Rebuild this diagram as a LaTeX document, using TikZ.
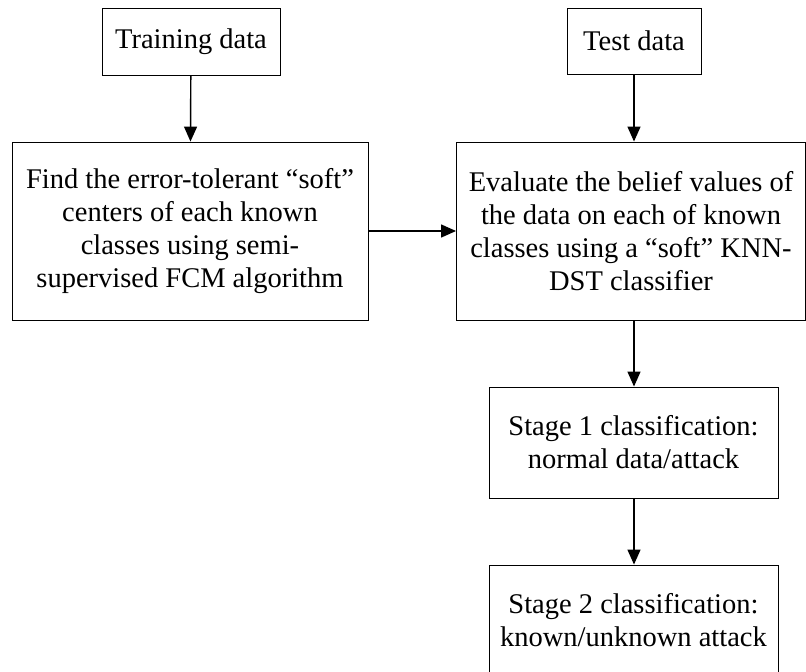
\documentclass[tikz,border=0pt]{standalone}
\usepackage{fontspec}
\setmainfont{Liberation Serif}
\usepackage{tikz}
\usetikzlibrary{arrows.meta}

\tikzset{
	stepbox/.style={draw, line width=0.9pt, align=center, inner sep=0pt,
		font=\fontsize{28.5}{33}\selectfont},
	flow/.style={line width=1.4pt, -{Triangle[length=15pt,width=13pt]}}
}

\begin{document}
\begin{tikzpicture}[x=1pt,y=-1pt]
			\useasboundingbox (0,0) rectangle (806,672);
			% left column
			\node[stepbox, minimum width=178, minimum height=67] (train) at (191,41.5) {Training data};
			\node[stepbox, minimum width=356, minimum height=178] (find) at (190,231)
				{Find the error-tolerant ``soft''\\ centers of each known\\ classes using semi-\\ supervised FCM algorithm};
			% right column
			\node[stepbox, minimum width=134, minimum height=66] (test) at (634,41) {Test data};
			\node[stepbox, minimum width=349, minimum height=178] (eval) at (631,231)
				{Evaluate the belief values of\\ the data on each of known\\ classes using a ``soft'' KNN-\\ DST classifier};
			\node[stepbox, minimum width=289, minimum height=111] (stage1) at (633.5,442.5)
				{Stage 1 classification:\\ normal data/attack};
			\node[stepbox, minimum width=289, minimum height=111] (stage2) at (633.5,620.5)
				{Stage 2 classification:\\ known/unknown attack};
			% connectors
			\draw[flow] (train) -- (find);
			\draw[flow] (test) -- (test |- eval.north);
			\draw[flow] (find) -- (eval);
			\draw[flow] (eval.south -| test) -- (stage1.north -| test);
			\draw[flow] (stage1.south -| test) -- (stage2.north -| test);
		\end{tikzpicture}
\end{document}
